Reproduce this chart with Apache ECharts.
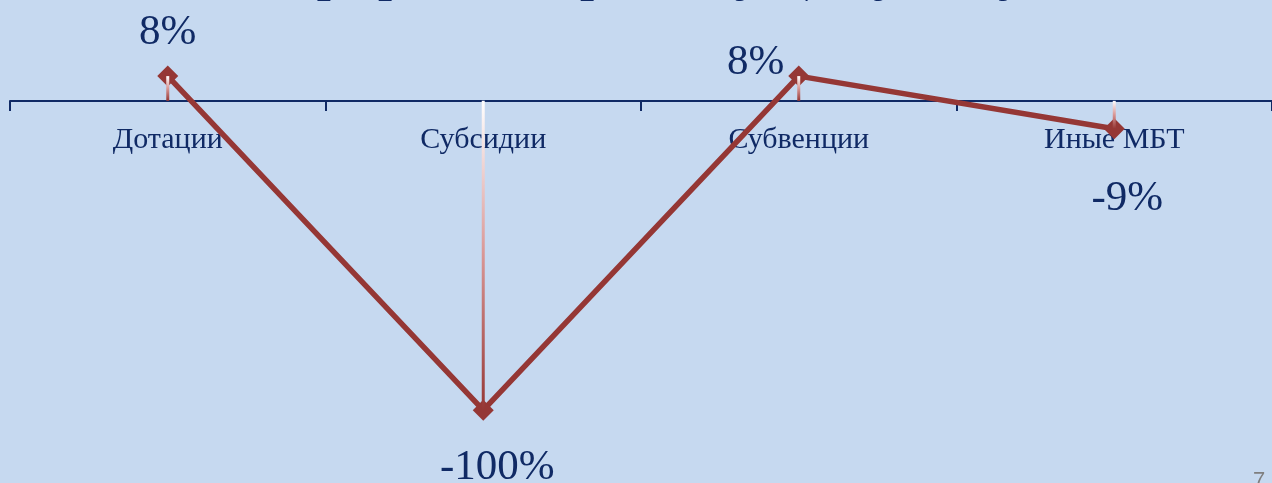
<!DOCTYPE html>
<html>
<head>
<meta charset="utf-8">
<script src="https://cdn.jsdelivr.net/npm/echarts@6/dist/echarts.min.js"></script>
<style>
  html, body { margin: 0; padding: 0; background: #c6d9f0; }
  #chart { width: 1272px; height: 483px; }
</style>
</head>
<body>
<div id="chart"></div>
<script>
// categories and growth vs previous year, %
const categories = ['Дотации', 'Субсидии', 'Субвенции', 'Иные МБТ']
const growth = [8, -100, 8, -9]
const titleText = 'Прирост к предыдущему году'

const navy = '#102a65'
const red = '#953735'

// where each value label sits relative to its point
const labelOffsets = [[0, -43], [14, 58], [-43, -13], [13, 70]]

const chart = echarts.init(document.getElementById('chart'))

chart.setOption({
  backgroundColor: '#c6d9f0',
  animation: false,
  grid: { left: 10, right: 0, top: 39, bottom: 11, containLabel: false, outerBoundsMode: 'none' },
  xAxis: {
    type: 'category',
    data: categories,
    boundaryGap: true,
    // grid is 140 units tall, zero sits 20 units below the top -> move axis up to it
    offset: -371,
    axisLine: { onZero: false, lineStyle: { color: navy, width: 2 } },
    axisTick: { show: true, interval: 0, length: 10, lineStyle: { color: navy, width: 2 } },
    axisLabel: {
      margin: 24,
      color: navy,
      fontFamily: 'Liberation Serif',
      fontSize: 30
    }
  },
  yAxis: {
    type: 'value',
    min: -120,
    max: 20,
    interval: 20,
    show: false,
    splitLine: { show: false }
  },
  graphic: [
    {
      // title sits mostly above the visible area, only descenders show
      type: 'text',
      left: 274,
      top: -57,
      style: {
        text: titleText,
        fill: navy,
        font: '59px "Liberation Serif"'
      }
    },
    {
      type: 'text',
      left: 1253,
      top: 470,
      style: { text: '7', fill: '#7f7f7f', font: '22px "Liberation Sans"' }
    }
  ],
  series: [
    {
      type: 'line',
      data: growth.map((v, i) => ({
        value: v,
        label: { offset: labelOffsets[i] }
      })),
      z: 2,
      symbol: 'diamond',
      symbolSize: 21,
      lineStyle: { color: red, width: 5.5 },
      itemStyle: { color: red },
      label: {
        show: true,
        position: 'inside',
        align: 'center',
        verticalAlign: 'middle',
        color: navy,
        fontFamily: 'Liberation Serif',
        fontSize: 43,
        formatter: (p) => p.value + '%'
      }
    },
    {
      type: 'bar',
      data: growth,
      barWidth: 3,
      z: 3,
      silent: true,
      itemStyle: {
        color: {
          type: 'linear',
          x: 0, y: 0, x2: 0, y2: 1,
          colorStops: [
            { offset: 0, color: '#ffffff' },
            { offset: 0.5, color: '#d99694' },
            { offset: 1, color: red }
          ]
        }
      }
    }
  ]
})
</script>
</body>
</html>
